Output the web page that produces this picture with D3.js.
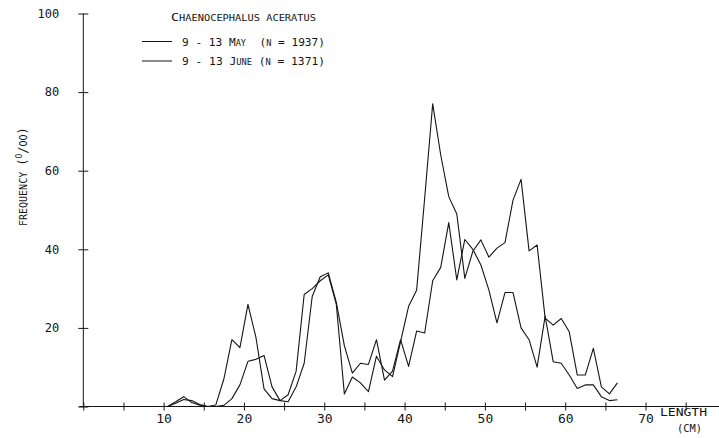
<!DOCTYPE html>
<html>
<head>
<meta charset="utf-8">
<script src="https://cdn.jsdelivr.net/npm/d3@7"></script>
<style>
  body { margin: 0; background: #fff; }
  svg { display: block; }
  text { fill: #151515; white-space: pre; }
</style>
</head>
<body>
<svg id="chart" width="719" height="438"></svg>
<script>
// Length classes (cm); each frequency is plotted at the class midpoint.
const lengthClasses = [10, 11, 12, 13, 14, 15, 16, 17, 18, 19,
                       20, 21, 22, 23, 24, 25, 26, 27, 28, 29,
                       30, 31, 32, 33, 34, 35, 36, 37, 38, 39,
                       40, 41, 42, 43, 44, 45, 46, 47, 48, 49,
                       50, 51, 52, 53, 54, 55, 56, 57, 58, 59,
                       60, 61, 62, 63, 64, 65, 66];

// Frequency (per mille) for each length class.
const mayFreq = [0, 1.2, 2.5, 1.0, 0.3, 0, 0.4, 7, 17, 15,
                 26, 17.5, 4.5, 2, 1.5, 3, 9, 28.5, 30, 32,
                 33.5, 26, 3.2, 7.5, 6, 3.8, 12.8, 9.3, 7.6, 16.5,
                 25.5, 29.6, 53, 77, 64, 53.4, 49, 32.6, 39.5, 42.4,
                 38, 40.3, 41.7, 52.5, 57.8, 39.6, 41.1, 22.5, 20.7, 22.4,
                 19, 8, 8, 14.8, 5, 3.2, 6];

const juneFreq = [0, 0.8, 1.8, 1.5, 0.5, 0, 0, 0.3, 2, 5.5,
                  11.5, 12, 13, 5, 1.5, 1.2, 5, 11, 28, 33,
                  34, 26.5, 15.5, 8.5, 11, 10.7, 17, 6.7, 9, 17,
                  10.2, 19.2, 18.7, 32, 35.4, 46.8, 32.2, 42.5, 40, 36,
                  29.6, 21.3, 29, 29, 20, 17, 10, 23, 11.4, 11,
                  8, 4.6, 5.5, 5.5, 2.5, 1.5, 1.7];

const xTickValues = [0, 5, 10, 15, 20, 25, 30, 35, 40, 45, 50, 55, 60, 65, 70, 75];
const xTickLabels = [10, 20, 30, 40, 50, 60, 70];
const yTickValues = [0, 20, 40, 60, 80, 100];
const yTickLabels = [20, 40, 60, 80, 100];

const MONO = '"DejaVu Sans Mono", "Liberation Mono", monospace';
const INK = "#151515";

const svg = d3.select("#chart");

const x = d3.scaleLinear().domain([0, 75]).range([83.3, 685.7]);
const y = d3.scaleLinear().domain([0, 100]).range([406.5, 13.5]);

// Axis lines
svg.append("line")
  .attr("x1", x(0)).attr("x2", x(0))
  .attr("y1", y(0) + 1).attr("y2", y(100))
  .attr("stroke", INK).attr("stroke-width", 1);
svg.append("line")
  .attr("x1", x(0) - 4).attr("x2", x(79.3))
  .attr("y1", y(0)).attr("y2", y(0))
  .attr("stroke", INK).attr("stroke-width", 1);

// X ticks cross the axis line
const xAxis = d3.axisBottom(x)
  .tickValues(xTickValues)
  .tickSize(8)
  .tickPadding(3)
  .tickFormat(d => xTickLabels.includes(d) ? String(d) : "");
svg.append("g")
  .attr("transform", `translate(0,${y(0) - 4})`)
  .call(xAxis)
  .call(g => g.select(".domain").remove())
  .call(g => g.selectAll(".tick line").attr("stroke", INK))
  .call(g => g.selectAll("text")
    .attr("font-family", MONO).attr("font-size", 13).attr("fill", INK));

// Y ticks cross the axis line
const yAxis = d3.axisLeft(y)
  .tickValues(yTickValues)
  .tickSize(10)
  .tickPadding(19)
  .tickFormat(d => yTickLabels.includes(d) ? String(d) : "");
svg.append("g")
  .attr("transform", `translate(${x(0) + 5},0)`)
  .call(yAxis)
  .call(g => g.select(".domain").remove())
  .call(g => g.selectAll(".tick line").attr("stroke", INK))
  .call(g => g.selectAll("text")
    .attr("font-family", MONO).attr("font-size", 12).attr("fill", INK));

// Frequency polygons
const line = d3.line()
  .x(d => x(d.len + 0.5))
  .y(d => y(d.f));

const series = [
  { name: "may", values: lengthClasses.map((len, i) => ({ len, f: mayFreq[i] })) },
  { name: "june", values: lengthClasses.map((len, i) => ({ len, f: juneFreq[i] })) }
];

svg.append("g").selectAll("path")
  .data(series)
  .join("path")
  .attr("d", d => line(d.values))
  .attr("fill", "none")
  .attr("stroke", INK)
  .attr("stroke-width", 1.1)
  .attr("stroke-linejoin", "round");

// Axis titles
const yTitle = svg.append("text")
  .attr("transform", "translate(26.5,226) rotate(-90)")
  .attr("font-family", MONO)
  .attr("font-size", 10);
yTitle.append("tspan").text("FREQUENCY ");
yTitle.append("tspan").attr("font-size", 12).text("(");
yTitle.append("tspan").attr("font-size", 8).attr("dy", -5).text("O");
yTitle.append("tspan").attr("font-size", 12).attr("dy", 5).text("/");
yTitle.append("tspan").attr("font-size", 10).text("OO");
yTitle.append("tspan").attr("font-size", 12).text(")");

svg.append("text")
  .attr("x", 660).attr("y", 415.5)
  .attr("font-family", MONO).attr("font-size", 10)
  .attr("textLength", 47).attr("lengthAdjust", "spacingAndGlyphs")
  .text("LENGTH");
svg.append("text")
  .attr("x", 677).attr("y", 432)
  .attr("font-family", MONO).attr("font-size", 10)
  .attr("textLength", 25).attr("lengthAdjust", "spacingAndGlyphs")
  .text("(CM)");

// Legend
const legend = svg.append("g").attr("font-family", MONO);
const title = legend.append("text")
  .attr("x", 171).attr("y", 20.5)
  .attr("textLength", 145).attr("lengthAdjust", "spacingAndGlyphs");
title.append("tspan").attr("font-size", 11).text("C");
title.append("tspan").attr("font-size", 8.5).text("HAENOCEPHALUS ACERATUS");

const legendRows = [
  { yPos: 45.5, parts: [["9 - 13 ", 11], ["M", 11], ["AY", 8.5], ["  (", 11], ["N", 8.5], [" = 1937)", 11]] },
  { yPos: 65, parts: [["9 - 13 ", 11], ["J", 11], ["UNE", 8.5], [" (", 11], ["N", 8.5], [" = 1371)", 11]] }
];
legendRows.forEach(row => {
  legend.append("line")
    .attr("x1", 142).attr("x2", 172)
    .attr("y1", row.yPos - 4).attr("y2", row.yPos - 4)
    .attr("stroke", INK).attr("stroke-width", 1);
  const t = legend.append("text")
    .attr("x", 182).attr("y", row.yPos)
    .attr("textLength", 143).attr("lengthAdjust", "spacingAndGlyphs");
  row.parts.forEach(([s, fs]) => t.append("tspan").attr("font-size", fs).text(s));
});
</script>
</body>
</html>
